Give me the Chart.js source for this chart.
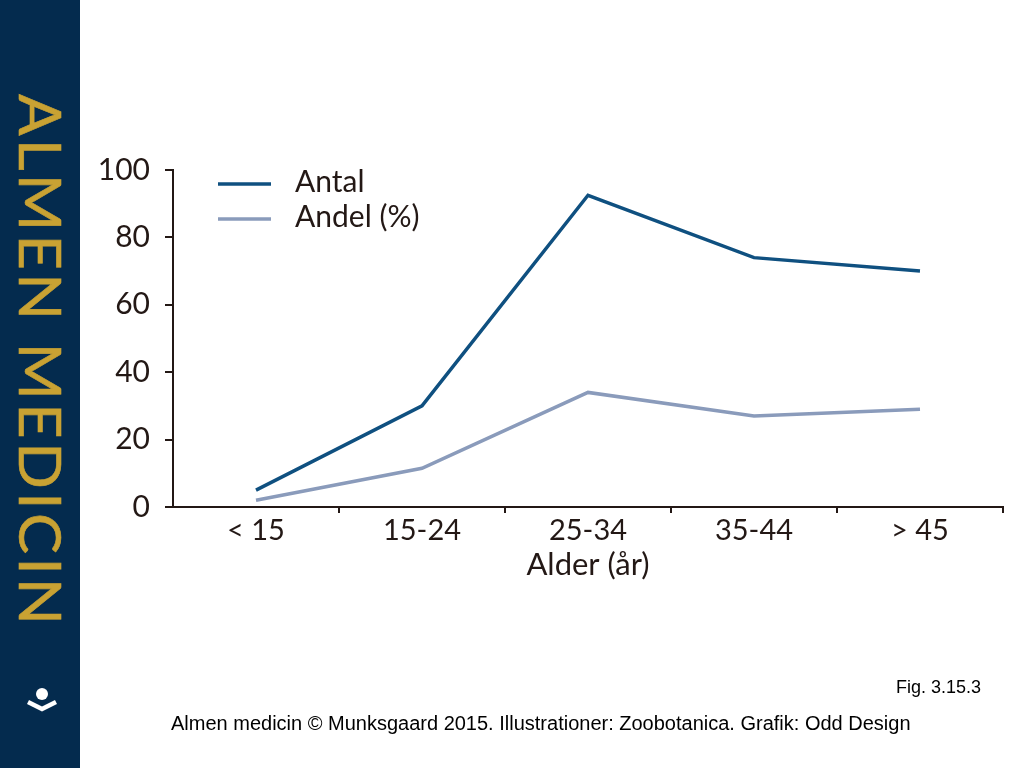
<!DOCTYPE html>
<html><head><meta charset="utf-8">
<style>
html,body{margin:0;padding:0;background:#fff;width:1024px;height:768px;overflow:hidden}
#side{position:absolute;left:0;top:0;width:80px;height:768px;background:#042b4e}
#brand{position:absolute;left:0;top:94px;transform-origin:0 0;transform:translate(70px,0) rotate(90deg) scaleX(1.06);font:400 58px Lato,sans-serif;color:#c9a233;white-space:nowrap;letter-spacing:3.2px;line-height:58px;-webkit-text-stroke:0.6px #c9a233}
#icon{position:absolute;left:27px;top:687px}
#chartWrap{position:absolute;left:0;top:0}
canvas{display:block}
.note{position:absolute;font-family:"Liberation Sans",Arial,sans-serif;color:#000;white-space:nowrap}
</style></head><body>
<div id="chartWrap"><canvas id="c" width="1024" height="768"></canvas></div>
<div id="side"><div id="brand">ALMEN MEDICIN</div>
<svg id="icon" width="30" height="28" viewBox="0 0 30 28"><circle cx="15" cy="7" r="6" fill="#fff"/><path d="M1 15 L15 22 L29 15" fill="none" stroke="#fff" stroke-width="4.5"/></svg></div>
<div class="note" style="left:896px;top:677px;font-size:18px">Fig. 3.15.3</div>
<div class="note" style="left:171px;top:712px;font-size:20px">Almen medicin © Munksgaard 2015. Illustrationer: Zoobotanica. Grafik: Odd Design</div>
<script src="https://cdn.jsdelivr.net/npm/chart.js@4"></script>
<script>
const categories = ["< 15","15-24","25-34","35-44","> 45"];
const antal = [5,30,92.5,74,70];
const andel = [2,11.5,34,27,29];
const yTicks = [0,20,40,60,80,100];
const seriesNames = ["Antal","Andel (%)"];
const axisTitle = "Alder (år)";
const ink = "#231815";
const font = {family:"Lato",size:30};
const xFont = {family:"Lato",size:29};
const titleFont = {family:"Lato",size:31};
const keyPlugin = {
  id:"key",
  afterDraw(chart){
    const c=chart.ctx;
    chart.data.datasets.forEach((d,i)=>{
      const y=184+i*35;
      c.save();
      c.strokeStyle=d.borderColor;c.lineWidth=d.borderWidth;
      c.beginPath();c.moveTo(218,y);c.lineTo(271,y);c.stroke();
      c.fillStyle=ink;c.font="30px Lato";c.textBaseline="middle";c.textAlign="left";
      c.fillText(d.label,295,y-2);
      c.restore();
    });
  }
};
new Chart(document.getElementById("c"),{
  type:"line",
  data:{labels:categories,datasets:[
    {label:seriesNames[0],data:antal,borderColor:"#0f5080",borderWidth:3.5,pointRadius:0,tension:0,fill:false},
    {label:seriesNames[1],data:andel,borderColor:"#8a9bbb",borderWidth:3.5,pointRadius:0,tension:0,fill:false}
  ]},
  options:{
    responsive:false,animation:false,
    layout:{padding:{left:0,top:170,right:21,bottom:184}},
    plugins:{legend:{display:false},tooltip:{enabled:false},title:{display:false}},
    scales:{
      x:{
        offset:true,
        grid:{offset:true,drawOnChartArea:false,drawTicks:true,tickLength:6,color:ink,lineWidth:2,
          tickColor:(ctx)=>ctx.index===0?"rgba(0,0,0,0)":ink},
        border:{color:ink,width:2},
        ticks:{color:ink,font:xFont,padding:0,maxRotation:0,autoSkip:false},
        title:{display:true,text:axisTitle,color:ink,font:titleFont,padding:{top:7,bottom:0}},
        afterFit(s){s.height=77;}
      },
      y:{
        min:0,max:100,
        afterBuildTicks(s){s.ticks=yTicks.map(v=>({value:v}));},
        grid:{drawOnChartArea:false,drawTicks:true,tickLength:8,color:ink,lineWidth:2},
        border:{color:ink,width:2},
        ticks:{color:ink,font,padding:15},
        afterFit(s){s.width=173;}
      }
    }
  },
  plugins:[keyPlugin]
});
</script>
</body></html>
